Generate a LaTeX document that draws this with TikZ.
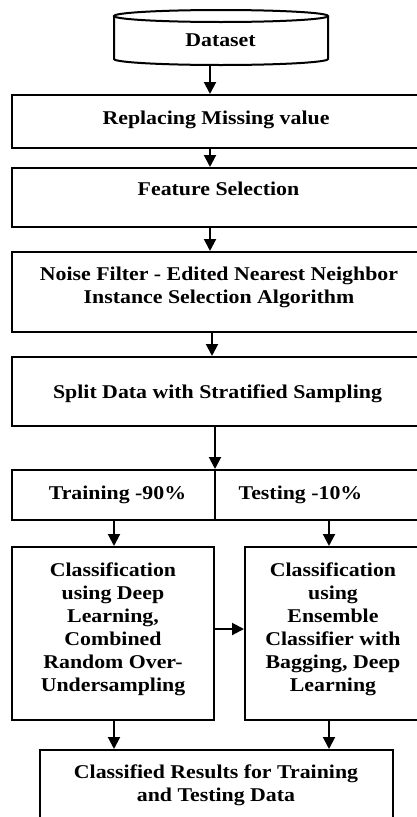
\documentclass[tikz,border=0pt]{standalone}
\usepackage{fontspec}
\setmainfont{Liberation Serif}[FakeStretch=1.12]
\usetikzlibrary{arrows.meta,calc}
\begin{document}
\begin{tikzpicture}[x=1pt,y=-1pt,
  box/.style={draw, line width=2pt, rectangle, inner sep=0pt},
  txt/.style={font=\bfseries\fontsize{19.5}{23}\selectfont, align=center, inner sep=0pt, anchor=base},
  arr/.style={line width=2pt, -{Triangle[width=12pt,length=12pt]}}]
\useasboundingbox (0,0) rectangle (417,817);
% cylinder
\node[inner sep=0, minimum width=214pt, minimum height=55pt] (ds) at (221,37.5) {};
\draw[line width=2pt] (221,16) ellipse[x radius=107, y radius=6];
\draw[line width=2pt] (114,16) -- (114,59) arc[start angle=180, end angle=0, x radius=107, y radius=6] -- (328,16);
\node[txt] (tds) at (220.5,46.5) {Dataset};
% boxes
\node[box, minimum width=408pt, minimum height=53pt] (b1) at (216,121.5) {};
\node[box, minimum width=408pt, minimum height=59pt] (b2) at (216,197.5) {};
\node[box, minimum width=408pt, minimum height=80pt] (b3) at (216,292) {};
\node[box, minimum width=408pt, minimum height=69pt] (b4) at (216,391.5) {};
\node[box, minimum width=203pt, minimum height=50pt] (btr) at (113.5,495) {};
\node[box, minimum width=205pt, minimum height=50pt] (bte) at (317.5,495) {};
\node[box, minimum width=202pt, minimum height=173pt] (bcl) at (113,633.5) {};
\node[box, minimum width=175pt, minimum height=173pt] (bcr) at (332.5,633.5) {};
\node[box, minimum width=353pt, minimum height=80pt] (bres) at (216.5,790) {};
% texts (base anchor = baseline of last line)
\node[txt] (t1) at (216,124) {Replacing Missing value};
\node[txt] (t2) at (218.5,195) {Feature Selection};
\node[txt] (t3) at (219,303) {Noise Filter - Edited Nearest Neighbor\\Instance Selection Algorithm};
\node[txt] (t4) at (217.5,398) {Split Data with Stratified Sampling};
\node[txt] (ttr) at (117.5,499) {Training -90\%};
\node[txt] (tte) at (300.5,499) {Testing -10\%};
\node[txt] (tcl) at (113,691) {Classification\\using Deep\\Learning,\\Combined\\Random Over-\\Undersampling};
\node[txt] (tcr) at (333,691) {Classification\\using\\Ensemble\\Classifier with\\Bagging, Deep\\Learning};
\node[txt] (tres) at (216,801) {Classified Results for Training\\and Testing Data};
% arrow x positions
\coordinate (xa) at (210,0);
\coordinate (xd) at (212,0);
\coordinate (xe) at (215,0);
\coordinate (xl) at (114,0);
\coordinate (xr) at (329,0);
\coordinate (yh) at (0,629);
\draw[arr] (ds.south -| xa) -- (b1.north -| xa);
\draw[arr] (b1.south -| xa) -- (b2.north -| xa);
\draw[arr] (b2.south -| xa) -- (b3.north -| xa);
\draw[arr] (b3.south -| xd) -- (b4.north -| xd);
\draw[arr] (b4.south -| xe) -- (btr.north -| xe);
\draw[arr] (btr.south -| xl) -- (bcl.north -| xl);
\draw[arr] (bte.south -| xr) -- (bcr.north -| xr);
\draw[arr] (bcl.east |- yh) -- (bcr.west |- yh);
\draw[arr] (bcl.south -| xl) -- (bres.north -| xl);
\draw[arr] (bcr.south -| xr) -- (bres.north -| xr);
\end{tikzpicture}
\end{document}
